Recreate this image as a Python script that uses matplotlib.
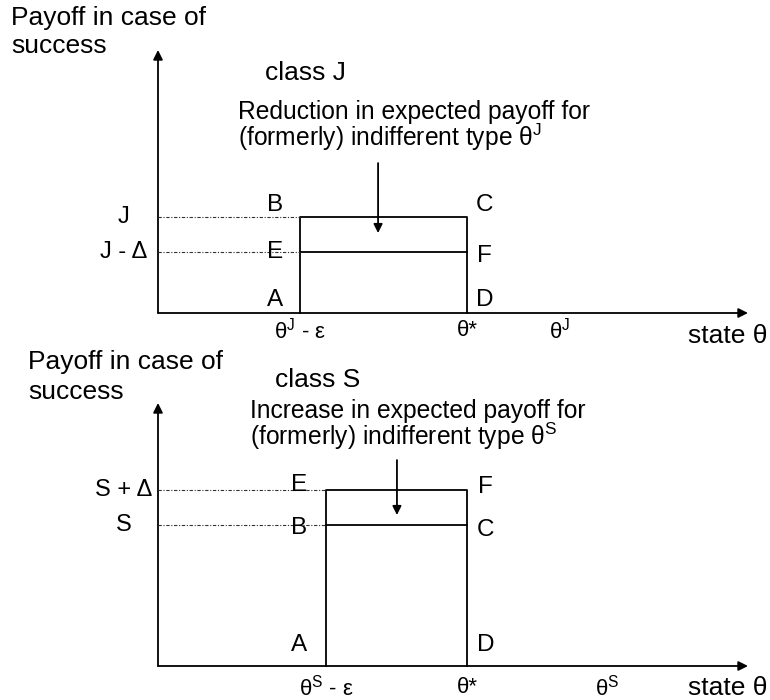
import matplotlib
matplotlib.use("Agg")
import matplotlib.pyplot as plt
from matplotlib.patches import FancyArrowPatch

plt.rcParams["font.family"] = ["Liberation Sans", "DejaVu Sans"]
plt.rcParams["mathtext.fontset"] = "custom"
plt.rcParams["mathtext.rm"] = "Liberation Sans"
plt.rcParams["mathtext.it"] = "Liberation Sans:italic"

# state axis values (abstract units, axis runs 0..10)
theta_j_eps = 2.41
theta_star = 5.24
theta_j = 6.81
theta_s_eps = 2.85
theta_s = 7.61

# payoff levels (axis runs 0..10)
payoff_j = 3.65
payoff_j_delta = 2.32   # J - Delta
payoff_s = 5.36
payoff_s_delta = 6.69   # S + Delta

tick_labels_j = [r"θ$^{\rm J}$ - ε", "θ*", r"θ$^{\rm J}$"]
tick_labels_s = [r"θ$^{\rm S}$ - ε", "θ*", r"θ$^{\rm S}$"]
level_labels_j = ["J", "J - Δ"]
level_labels_s = ["S + Δ", "S"]
note_j = "Reduction in expected payoff for\n(formerly) indifferent type θ$^{\\rm J}$"
note_s = "Increase in expected payoff for\n(formerly) indifferent type θ$^{\\rm S}$"

W, H = 770, 700
fig = plt.figure(figsize=(W / 100, H / 100), dpi=100)

LW = 1.3
FS_LETTER = 17.5
FS_LEVEL = 17
FS_TICK = 16
FS_NOTE = 17.7


def fx(px):
    return px / W


def fy(py):
    return 1 - py / H


def axes_at(x0, y0, x1, y1):
    # pixel box: x0 left, y0 origin row, x1 right end, y1 top end
    ax = fig.add_axes([fx(x0), fy(y0), (x1 - x0) / W, (y0 - y1) / H])
    ax.set_xlim(0, 10)
    ax.set_ylim(0, 10)
    ax.axis("off")
    return ax


def arrow(ax, start, end, scale=14):
    p = FancyArrowPatch(start, end, arrowstyle="-|>", mutation_scale=scale,
                        lw=LW, color="black", shrinkA=0, shrinkB=0, clip_on=False)
    ax.add_patch(p)


def dotted(ax, y, x_end):
    ax.plot([0, x_end], [y, y], color="#333333", lw=0.8,
            linestyle=(0, (3, 1.5, 1, 1.5)), clip_on=False)


def letter(ax, x, y, s):
    ax.text(x, y, s, fontsize=FS_LETTER, ha="center", va="center")


# ---------------- top panel: class J ----------------
ax1 = axes_at(158, 313, 748, 50)
arrow(ax1, (0, 0), (10, 0))
arrow(ax1, (0, 0), (0, 10))
ax1.plot([theta_j_eps, theta_j_eps, theta_star, theta_star],
         [0, payoff_j, payoff_j, 0], color="black", lw=LW, clip_on=False)
ax1.plot([theta_j_eps, theta_star], [payoff_j_delta, payoff_j_delta],
         color="black", lw=LW, clip_on=False)
dotted(ax1, payoff_j, theta_j_eps)
dotted(ax1, payoff_j_delta, theta_j_eps)

for lab, yv in zip(level_labels_j, [payoff_j, payoff_j_delta]):
    ax1.text(-0.58, yv, lab, fontsize=FS_LEVEL, ha="center", va="center")

lx = theta_j_eps - 0.43
rx = theta_star + 0.29
letter(ax1, lx, payoff_j + 0.46, "B")
letter(ax1, lx, payoff_j_delta, "E")
letter(ax1, lx, 0.49, "A")
letter(ax1, rx, payoff_j + 0.46, "C")
letter(ax1, rx, payoff_j_delta - 0.15, "F")
letter(ax1, rx, 0.49, "D")

for lab, xv in zip(tick_labels_j, [theta_j_eps, theta_star, theta_j]):
    ax1.text(xv, -0.68, lab, fontsize=FS_TICK, ha="center", va="center")
ax1.text(8.98, -0.88, "state θ", fontsize=19, ha="left", va="center")

arrow(ax1, (3.73, 5.70), (3.73, 3.04), scale=13)

fig.text(fx(11), fy(18), "Payoff in case of", fontsize=19, ha="left", va="center")
fig.text(fx(11), fy(46), "success", fontsize=19, ha="left", va="center")
fig.text(fx(265), fy(73), "class J", fontsize=19, ha="left", va="center")
# multi-line text: 'baseline' anchors the last line
fig.text(fx(238), fy(146), note_j, fontsize=FS_NOTE, ha="left", va="baseline",
         linespacing=0.9)

# ---------------- bottom panel: class S ----------------
ax2 = axes_at(158, 666, 748, 403)
arrow(ax2, (0, 0), (10, 0))
arrow(ax2, (0, 0), (0, 10))
ax2.plot([theta_s_eps, theta_s_eps, theta_star, theta_star],
         [0, payoff_s_delta, payoff_s_delta, 0], color="black", lw=LW, clip_on=False)
ax2.plot([theta_s_eps, theta_star], [payoff_s, payoff_s],
         color="black", lw=LW, clip_on=False)
dotted(ax2, payoff_s_delta, theta_s_eps)
dotted(ax2, payoff_s, theta_s_eps)

for lab, yv in zip(level_labels_s, [payoff_s_delta, payoff_s]):
    ax2.text(-0.58, yv, lab, fontsize=FS_LEVEL, ha="center", va="center")

lx = theta_s_eps - 0.46
rx = theta_star + 0.31
letter(ax2, lx, payoff_s_delta + 0.19, "E")
letter(ax2, lx, payoff_s - 0.11, "B")
letter(ax2, lx, 0.80, "A")
letter(ax2, rx, payoff_s_delta + 0.11, "F")
letter(ax2, rx, payoff_s - 0.19, "C")
letter(ax2, rx, 0.80, "D")

for lab, xv in zip(tick_labels_s, [theta_s_eps, theta_star, theta_s]):
    ax2.text(xv, -0.82, lab, fontsize=FS_TICK, ha="center", va="center")
ax2.text(8.98, -0.85, "state θ", fontsize=19, ha="left", va="center")

arrow(ax2, (4.05, 7.83), (4.05, 5.74), scale=13)

fig.text(fx(28), fy(362), "Payoff in case of", fontsize=19, ha="left", va="center")
fig.text(fx(28), fy(392), "success", fontsize=19, ha="left", va="center")
fig.text(fx(275), fy(380), "class S", fontsize=19, ha="left", va="center")
fig.text(fx(250), fy(445), note_s, fontsize=FS_NOTE, ha="left", va="baseline",
         linespacing=0.9)

fig.savefig("out.png", dpi=100, facecolor="white")
